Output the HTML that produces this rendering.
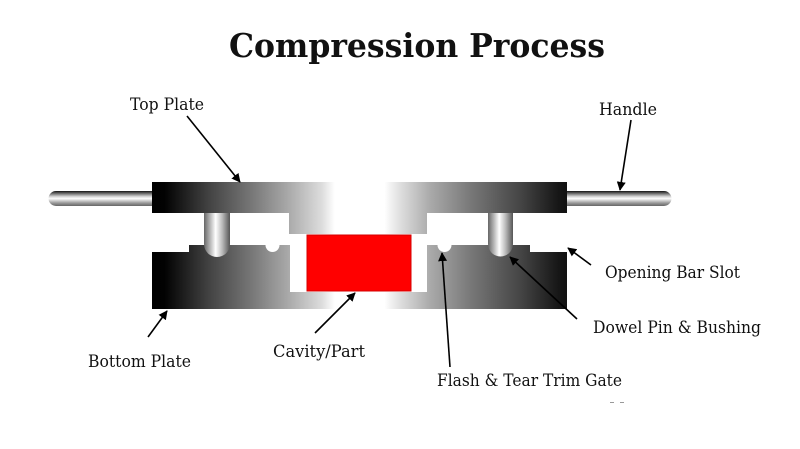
<!DOCTYPE html>
<html><head><meta charset="utf-8"><style>
html,body{margin:0;padding:0;background:#fff;}
svg{display:block;}
text{font-family:"DejaVu Serif","Liberation Serif",serif;fill:#111;}
</style></head><body>
<svg width="800" height="449" viewBox="0 0 800 449" xmlns="http://www.w3.org/2000/svg">
<defs>
<linearGradient id="plate" gradientUnits="userSpaceOnUse" x1="152" y1="0" x2="567" y2="0">
<stop offset="0" stop-color="#000"/>
<stop offset="0.03" stop-color="#020202"/>
<stop offset="0.14" stop-color="#444"/>
<stop offset="0.24" stop-color="#777"/>
<stop offset="0.33" stop-color="#aaa"/>
<stop offset="0.41" stop-color="#ddd"/>
<stop offset="0.44" stop-color="#fff"/>
<stop offset="0.56" stop-color="#fff"/>
<stop offset="0.60" stop-color="#ddd"/>
<stop offset="0.67" stop-color="#aaa"/>
<stop offset="0.77" stop-color="#777"/>
<stop offset="0.89" stop-color="#444"/>
<stop offset="0.98" stop-color="#161616"/>
<stop offset="1" stop-color="#111"/>
</linearGradient>
<linearGradient id="rod" x1="0" y1="0" x2="0" y2="1">
<stop offset="0" stop-color="#111"/>
<stop offset="0.12" stop-color="#555"/>
<stop offset="0.35" stop-color="#ccc"/>
<stop offset="0.5" stop-color="#fff"/>
<stop offset="0.8" stop-color="#999"/>
<stop offset="1" stop-color="#666"/>
</linearGradient>
<linearGradient id="pin" x1="0" y1="0" x2="1" y2="0">
<stop offset="0" stop-color="#666"/>
<stop offset="0.2" stop-color="#aaa"/>
<stop offset="0.45" stop-color="#fff"/>
<stop offset="0.7" stop-color="#bbb"/>
<stop offset="1" stop-color="#555"/>
</linearGradient>
<marker id="ah" viewBox="0 0 10 10" refX="9" refY="5" markerWidth="9" markerHeight="9" markerUnits="userSpaceOnUse" orient="auto">
<path d="M0,0 L10,5 L0,10 Z" fill="#000"/>
</marker>
</defs>

<text x="229" y="57" font-size="33" font-weight="bold" textLength="376" lengthAdjust="spacingAndGlyphs">Compression Process</text>

<!-- handles -->
<path d="M153,191 H56 a7.5,7.5 0 0 0 0,15 H153 Z" fill="url(#rod)"/>
<path d="M566,191 H664 a7.5,7.5 0 0 1 0,15 H566 Z" fill="url(#rod)"/>

<!-- top plate -->
<path d="M152,182 H567 V213 H427 V234 H289 V213 H152 Z" fill="url(#plate)"/>
<!-- bottom plate -->
<path d="M152,252 H189 V245 H290 V292 H427 V245 H530 V252 H567 V309 H152 Z" fill="url(#plate)"/>
<!-- notches -->
<circle cx="272.5" cy="245" r="7" fill="#fff"/>
<circle cx="444.5" cy="245" r="7" fill="#fff"/>
<rect x="264" y="238" width="18" height="7" fill="#fff"/>
<rect x="436" y="238" width="18" height="7" fill="#fff"/>

<!-- pins -->
<path d="M204,213 H230 V244 a13,13 0 0 1 -26,0 Z" fill="url(#pin)"/>
<path d="M488,213 H513 V244 a12.5,12.5 0 0 1 -25,0 Z" fill="url(#pin)"/>

<!-- cavity part -->
<rect x="307" y="235" width="104" height="56" fill="#ff0000" stroke="#d40000" stroke-width="1"/>

<!-- arrows -->
<g stroke="#000" stroke-width="1.6" fill="none">
<line x1="187" y1="116" x2="240" y2="182" marker-end="url(#ah)"/>
<line x1="631" y1="120" x2="620" y2="190" marker-end="url(#ah)"/>
<line x1="591" y1="265" x2="568" y2="248" marker-end="url(#ah)"/>
<line x1="577" y1="319" x2="510" y2="257" marker-end="url(#ah)"/>
<line x1="450" y1="367" x2="442" y2="253" marker-end="url(#ah)"/>
<line x1="148" y1="337" x2="167" y2="311" marker-end="url(#ah)"/>
<line x1="315" y1="333" x2="355" y2="293" marker-end="url(#ah)"/>
</g>

<!-- labels -->
<g font-size="17">
<text x="130" y="110" textLength="74" lengthAdjust="spacingAndGlyphs">Top Plate</text>
<text x="599" y="115" textLength="58" lengthAdjust="spacingAndGlyphs">Handle</text>
<text x="605" y="278" textLength="135" lengthAdjust="spacingAndGlyphs">Opening Bar Slot</text>
<text x="593" y="333" textLength="168" lengthAdjust="spacingAndGlyphs">Dowel Pin &amp; Bushing</text>
<text x="88" y="367" textLength="103" lengthAdjust="spacingAndGlyphs">Bottom Plate</text>
<text x="273" y="357" textLength="92" lengthAdjust="spacingAndGlyphs">Cavity/Part</text>
<text x="437" y="386" textLength="185" lengthAdjust="spacingAndGlyphs">Flash &amp; Tear Trim Gate</text>
</g>

<!-- small artifacts -->
<rect x="610" y="402" width="4" height="1" fill="#999"/>
<rect x="620" y="402" width="4" height="1" fill="#999"/>
</svg>
</body></html>
